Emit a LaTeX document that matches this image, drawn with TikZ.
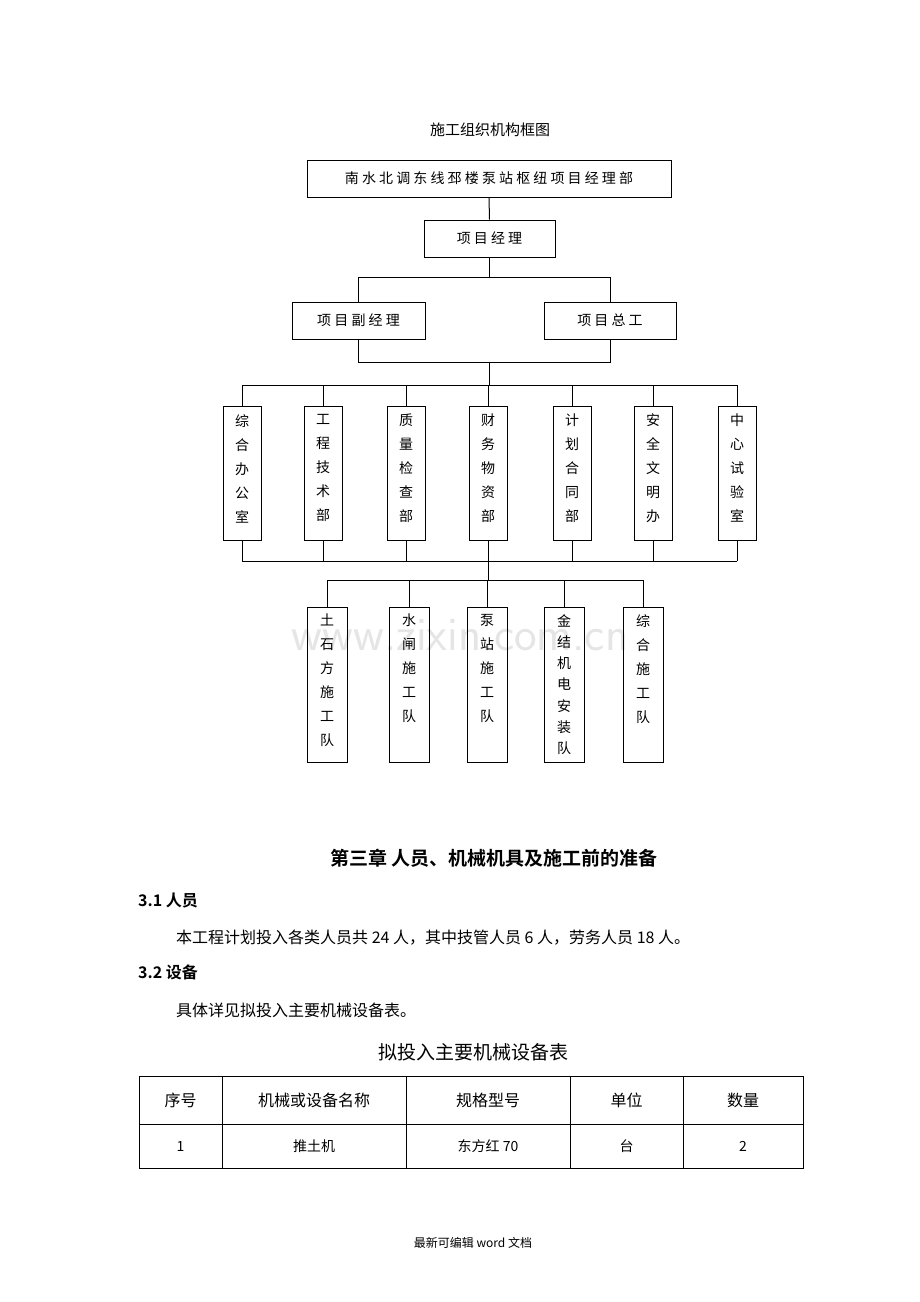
\documentclass[tikz,border=0pt]{standalone}
\usepackage{fontspec}
\setmainfont{Liberation Serif}
\newfontfamily\cjk{Noto Sans CJK SC}
\newfontfamily\cjkb{Noto Sans CJK SC}[BoldFont={* Bold}]
\begin{document}
\begin{tikzpicture}[x=1pt,y=-1pt,
  box/.style={draw,line width=1pt,inner sep=0pt,font=\cjk\fontsize{14}{16}\selectfont},
  vbox/.style={draw,line width=1pt,inner sep=0pt,anchor=north,font=\cjk\fontsize{14}{24}\selectfont,align=center},
  ln/.style={line width=1pt},
  txt/.style={inner sep=0pt,font=\cjk\fontsize{15}{18}\selectfont}]
\useasboundingbox (0,0) rectangle (920,1302);
\node[inner sep=0pt,text=black!10,font=\fontsize{48}{50}\selectfont\sffamily] (wm) at (460,635) {www.zixin.com.cn};
\node[txt] (title) at (490,130) {施工组织机构框图};
\node[box,minimum width=364,minimum height=37] (top) at (489,178.5) {南 水 北 调 东 线 邳 楼 泵 站 枢 纽 项 目 经 理 部};
\node[box,minimum width=131,minimum height=37] (pm) at (489.5,238.5) {项 目 经 理};
\node[box,minimum width=133,minimum height=37] (dpm) at (358.5,320.5) {项 目 副 经 理};
\node[box,minimum width=132,minimum height=37] (ce) at (610,320.5) {项 目 总 工};
\draw[ln] (top.south) -- (pm.north);
\coordinate (j1) at (489.5,277);
\draw[ln] (pm.south) -- (j1);
\draw[ln] (dpm.north) -- (358.5,277) -- (610,277) -- (ce.north);
\coordinate (j2) at (489.5,362);
\draw[ln] (dpm.south) -- (358.5,362) -- (610,362) -- (ce.south);
\coordinate (j3) at (489.5,385);
\draw[ln] (j2) -- (j3);
\draw[ln] (242,385) -- (737,385);
\draw[ln] (242,561) -- (737,561);
\foreach \n/\x/\t in {a/242/综\\合\\办\\公\\室, b/323/工\\程\\技\\术\\部, c/406/质\\量\\检\\查\\部, d/488/财\\务\\物\\资\\部, e/572/计\\划\\合\\同\\部, f/653/安\\全\\文\\明\\办, g/737/中\\心\\试\\验\\室}{
  \node[vbox,minimum width=38,minimum height=134] (\n) at (\x,406) {};
  \node[inner sep=0pt,anchor=north,font=\cjk\fontsize{14}{24}\selectfont,align=center] at (\x,414) {\t};
  \draw[ln] (\x,385) -- (\n.north);
  \draw[ln] (\n.south) -- (\x,561);
}
\coordinate (j4) at (488,580);
\draw[ln] (488,561) -- (j4);
\draw[ln] (327,580) -- (643,580);
\foreach \n/\x/\t/\s in {p/327/土\\石\\方\\施\\工\\队/24, q/409/水\\闸\\施\\工\\队/24, r/487/泵\\站\\施\\工\\队/24, s/564/金\\结\\机\\电\\安\\装\\队/21.3, t/643/综\\合\\施\\工\\队/24}{
  \node[vbox,minimum width=40,minimum height=155,anchor=north] (\n) at (\x,607) {};
  \node[inner sep=0pt,anchor=north,font=\cjk\fontsize{14}{\s}\selectfont,align=center] at (\x,614) {\t};
  \draw[ln] (\x,580) -- (\n.north);
}
\node[inner sep=0pt,font=\cjkb\bfseries\fontsize{19}{22}\selectfont] (h3) at (494,858) {第三章\ 人员、机械机具及施工前的准备};
\node[inner sep=0pt,anchor=west,font=\cjkb\bfseries\fontsize{16}{18}\selectfont] (h31) at (138,900) {3.1 人员};
\node[inner sep=0pt,anchor=west,font=\cjk\fontsize{16}{18}\selectfont] (p1) at (176,938) {本工程计划投入各类人员共 24 人，其中技管人员 6 人，劳务人员 18 人。};
\node[inner sep=0pt,anchor=west,font=\cjkb\bfseries\fontsize{16}{18}\selectfont] (h32) at (138,972) {3.2 设备};
\node[inner sep=0pt,anchor=west,font=\cjk\fontsize{16}{18}\selectfont] (p2) at (176,1010) {具体详见拟投入主要机械设备表。};
\node[inner sep=0pt,font=\cjk\fontsize{19}{22}\selectfont] (tt) at (473,1052) {拟投入主要机械设备表};
\draw[line width=0.8pt] (139,1076) rectangle (803,1168);
\draw[line width=0.8pt] (139,1124) -- (803,1124);
\foreach \x in {222,406,570,683} \draw[line width=0.8pt] (\x,1076) -- (\x,1168);
\foreach \x/\a/\b in {180.5/序号/1, 314/机械或设备名称/推土机, 488/规格型号/东方红 70, 626.5/单位/台, 743/数量/2}{
  \node[inner sep=0pt,font=\cjk\fontsize{16}{18}\selectfont] at (\x,1100) {\a};
  \node[inner sep=0pt,font=\cjk\fontsize{14}{16}\selectfont] at (\x,1146) {\b};
}
\node[inner sep=0pt,font=\cjk\fontsize{12}{14}\selectfont] (ft) at (473,1243) {最新可编辑 word 文档};
\end{tikzpicture}
\end{document}
